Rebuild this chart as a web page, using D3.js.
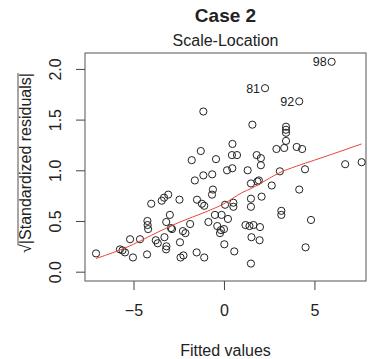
<!DOCTYPE html>
<html>
<head>
<meta charset="utf-8">
<script src="https://cdn.jsdelivr.net/npm/d3@7"></script>
<style>
  body { margin: 0; background: #fff; }
  text { font-family: "Liberation Sans", Arial, Helvetica, sans-serif; fill: #222; }
</style>
</head>
<body>
<svg id="chart" width="370" height="359"></svg>
<script>
// fitted values / sqrt(|standardized residuals|)
const fitted = [
  -7.07, -5.75, -5.61, -5.47, -5.19, -5.03, -4.64, -4.25, -4.23, -4.22,
  -4.19, -4.02, -3.77, -3.66, -3.29, -3.18, -3.20, -3.44, -3.31, -3.08,
  -2.99, -3.19, -2.93, -2.87, -2.46, -2.43, -2.40, -2.24, -2.27, -2.13,
  -1.87, -1.78, -1.61, -1.49, -1.51, -1.28, -1.14, -1.22, -1.09, -1.09,
  -1.14, -0.65, -0.86, -0.61, -0.66, -0.44, -0.50, -0.13, 0.22, -0.37,
  -0.17, 0.00, -0.22, 0.02, 0.06, 0.17, 0.46, 0.47, 0.44, 0.72,
  0.52, 0.52, 0.57, 1.19, 1.41, 1.63, 1.99, 1.31, 1.49, 1.85,
  1.93, 1.49, 1.49, 1.52, 1.97, 1.49, 1.57, 1.81, 2.04, 2.04,
  2.08, 2.27, 2.64, 2.90, 3.33, 3.43, 3.43, 3.43, 3.43, 3.09,
  3.17, 3.17, 4.02, 4.32, 4.16, 4.16, 4.48, 4.51, 4.81, 5.95,
  6.70, 7.61
];
const sqrtStdRes = [
  0.18, 0.22, 0.21, 0.19, 0.32, 0.14, 0.32, 0.17, 0.50, 0.46,
  0.42, 0.67, 0.31, 0.28, 0.34, 0.25, 0.22, 0.70, 0.73, 0.76,
  0.56, 0.49, 0.43, 0.42, 0.71, 0.29, 0.14, 0.16, 0.40, 0.38,
  0.47, 1.10, 0.90, 0.71, 0.19, 1.19, 1.58, 0.67, 0.65, 0.14,
  0.95, 0.96, 0.49, 0.81, 0.76, 1.11, 0.56, 0.56, 0.52, 0.45,
  0.41, 0.42, 0.38, 0.27, 0.66, 1.00, 1.02, 1.26, 1.15, 1.15,
  0.68, 0.64, 0.20, 0.46, 0.45, 0.46, 0.44, 1.00, 0.87, 0.89,
  0.90, 0.72, 0.64, 0.34, 0.31, 0.08, 1.45, 1.15, 1.12, 1.05,
  0.74, 1.81, 0.85, 1.21, 1.22, 1.43, 1.40, 1.37, 1.29, 0.99,
  0.60, 0.56, 1.23, 1.21, 1.68, 0.81, 1.01, 0.24, 0.51, 2.07,
  1.06, 1.08
];
// labelled extreme observations (index into the arrays above)
const labelIdx = [99, 81, 94];
const labelText = ["98", "81", "92"];

// red smoother
const smoothX = [-7.07, -5, -4, -2.5, -1, 0, 1, 1.5, 2.5, 3, 4, 5, 6, 7.61];
const smoothY = [0.13, 0.27, 0.36, 0.485, 0.59, 0.67, 0.78, 0.82, 0.92, 0.97, 1.04, 1.10, 1.16, 1.26];

const xTicks = [-5, 0, 5];
const yTicks = [0, 0.5, 1, 1.5, 2];

const svg = d3.select("#chart");
const plotL = 85, plotR = 366, plotT = 53, plotB = 281;

const x = d3.scaleLinear().domain([-7.68, 7.85]).range([plotL, plotR]);
const y = d3.scaleLinear().domain([-0.092, 2.157]).range([plotB, plotT]);

// titles
svg.append("text")
  .attr("x", (plotL + plotR) / 2).attr("y", 22)
  .attr("text-anchor", "middle")
  .style("font-size", "19px").style("font-weight", "bold")
  .text("Case 2");
svg.append("text")
  .attr("x", (plotL + plotR) / 2).attr("y", 46)
  .attr("text-anchor", "middle")
  .style("font-size", "16px")
  .text("Scale-Location");

// axes
const xAxis = svg.append("g")
  .attr("transform", `translate(0,${plotB})`)
  .call(d3.axisBottom(x).tickValues(xTicks).tickSize(9).tickPadding(15).tickFormat(d3.format("d")));
xAxis.select(".domain").remove();
xAxis.selectAll("line").attr("stroke", "#444");
xAxis.selectAll("text").style("font-size", "16px").attr("fill", "#222");

const yAxis = svg.append("g")
  .attr("transform", `translate(${plotL},0)`)
  .call(d3.axisLeft(y).tickValues(yTicks).tickSize(9).tickFormat(d3.format(".1f")));
yAxis.select(".domain").remove();
yAxis.selectAll("line").attr("stroke", "#444");
yAxis.selectAll("text")
  .attr("transform", "rotate(-90)")
  .attr("x", 0).attr("y", -24).attr("dy", 0)
  .attr("text-anchor", "middle")
  .style("font-size", "16px").attr("fill", "#222");

// box
svg.append("rect")
  .attr("x", plotL).attr("y", plotT)
  .attr("width", plotR - plotL).attr("height", plotB - plotT)
  .attr("fill", "none").attr("stroke", "#555").attr("stroke-width", 1);

// axis titles
svg.append("text")
  .attr("x", (plotL + plotR) / 2).attr("y", 356)
  .attr("text-anchor", "middle")
  .style("font-size", "16px")
  .text("Fitted values");

const yl = svg.append("g").attr("transform", "translate(31,163) rotate(-90)");
const ylText = yl.append("text")
  .attr("text-anchor", "middle")
  .style("font-size", "16px");
ylText.append("tspan").text("\u221A");
ylText.append("tspan").text("|Standardized residuals|");
const L = ylText.node().getComputedTextLength();
const r = ylText.node().getSubStringLength(0, 1);
yl.append("line")
  .attr("x1", -L / 2 + r - 1).attr("x2", L / 2)
  .attr("y1", -13).attr("y2", -13)
  .attr("stroke", "#222").attr("stroke-width", 0.8);

// points
const pts = fitted.map((d, i) => ({ fx: d, sr: sqrtStdRes[i] }));
svg.append("g").selectAll("circle")
  .data(pts)
  .join("circle")
  .attr("cx", d => x(d.fx))
  .attr("cy", d => y(d.sr))
  .attr("r", 3.6)
  .attr("fill", "none")
  .attr("stroke", "#222")
  .attr("stroke-width", 1);

// smoother
const line = d3.line()
  .x(d => x(d[0]))
  .y(d => y(d[1]))
  .curve(d3.curveMonotoneX);
svg.append("path")
  .datum(smoothX.map((d, i) => [d, smoothY[i]]))
  .attr("d", line)
  .attr("fill", "none")
  .attr("stroke", "#e8473f")
  .attr("stroke-width", 1);

// labels on extreme points
svg.append("g").selectAll("text")
  .data(labelIdx)
  .join("text")
  .attr("x", i => x(fitted[i]) - 5)
  .attr("y", i => y(sqrtStdRes[i]))
  .attr("dy", "0.35em")
  .attr("text-anchor", "end")
  .style("font-size", "12.5px")
  .text((d, k) => labelText[k]);
</script>
</body>
</html>
